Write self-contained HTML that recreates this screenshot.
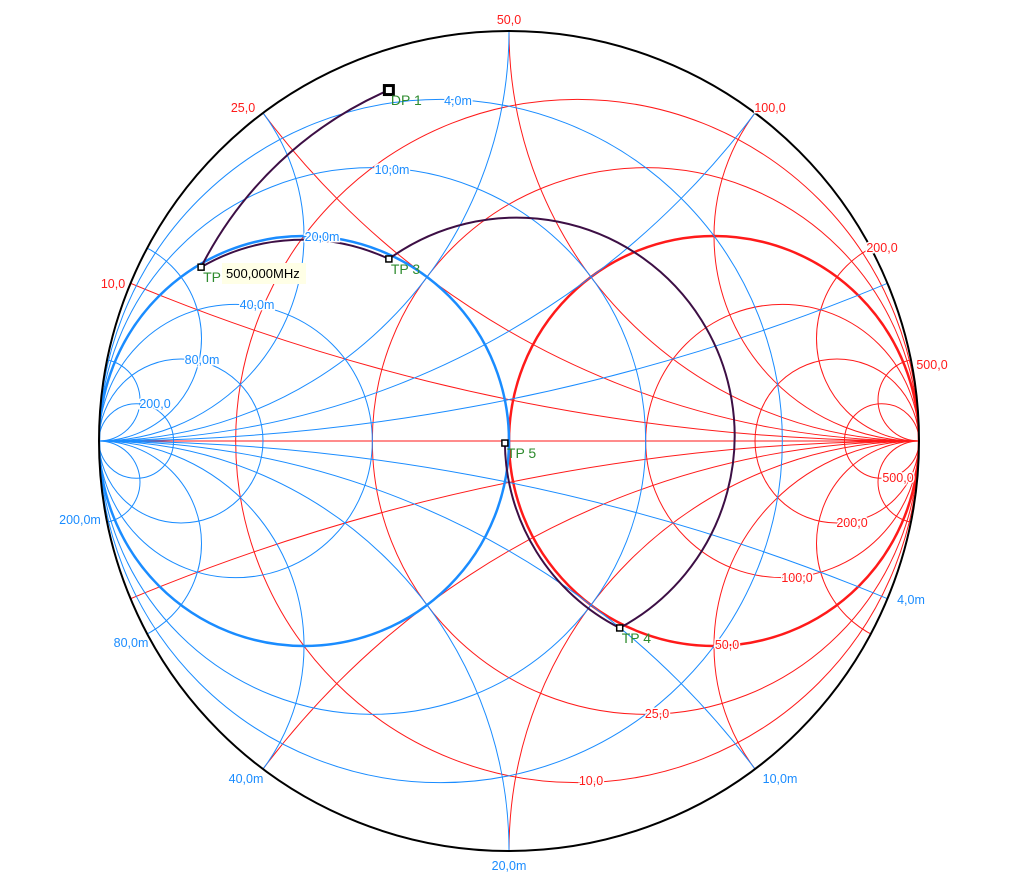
<!DOCTYPE html>
<html><head><meta charset="utf-8"><style>
html,body{margin:0;padding:0;background:#fff;width:1015px;height:882px;overflow:hidden;}
svg{display:block;font-family:"Liberation Sans",sans-serif;font-size:12.5px;}
</style></head><body>
<svg id="chart" width="1015" height="882" viewBox="0 0 1015 882">
<defs><clipPath id="uc"><circle cx="509" cy="441" r="410"/></clipPath></defs>
<g id="grid" clip-path="url(#uc)"></g>
<circle cx="509" cy="441" r="410" fill="none" stroke="#000" stroke-width="2"/>
<g id="traces"></g>
<g id="labels"></g>
</svg>
<script>
const CX=509, CY=441, R=410;
const resistances=[0.2,0.5,1,2,4,10];
const reactances=[0.2,0.5,1,2,4,10];
const conductances=[0.2,0.5,1,2,4,10];
const susceptances=[0.2,0.5,1,2,4,10];
const tpNames=["DP 1","TP 2","TP 3","TP 4","TP 5"];
const tpU=[-0.293,-0.751,-0.293,0.27,-0.01];
const tpV=[0.856,0.424,0.444,-0.456,-0.005];
const redRimLabels=["50,0","25,0","10,0","100,0","200,0","500,0"];
const redInLabels=["500,0","200,0","100,0","50,0","25,0","10,0"];
const blueInLabels=["4,0m","10,0m","20,0m","40,0m","80,0m","200,0"];
const blueRimLabels=["200,0m","80,0m","40,0m","20,0m","10,0m","4,0m"];
const NS="http://www.w3.org/2000/svg";
const px=u=>CX+u*R, py=v=>CY-v*R;
const grid=document.getElementById('grid'), tr=document.getElementById('traces'), lb=document.getElementById('labels');
function circ(parent,cu,cv,r,col,w){const c=document.createElementNS(NS,'circle');c.setAttribute('cx',px(cu));c.setAttribute('cy',py(cv));c.setAttribute('r',r*R);c.setAttribute('fill','none');c.setAttribute('stroke',col);c.setAttribute('stroke-width',w);parent.appendChild(c);return c;}
const RED="#ff1a1a", BLUE="#1a8cff";
const ax=document.createElementNS(NS,'line');ax.setAttribute('x1',CX-R);ax.setAttribute('x2',CX+R);ax.setAttribute('y1',CY);ax.setAttribute('y2',CY);ax.setAttribute('stroke',RED);


grid.appendChild(ax);
resistances.forEach(r=>{const c=circ(grid,r/(1+r),0,1/(1+r),RED,r===1?2.5:1);

});
reactances.forEach(x=>{[1,-1].forEach(s=>{const c=circ(grid,1,s/x,1/x,RED,1);

});});
conductances.forEach(g=>{const c=circ(grid,-g/(1+g),0,1/(1+g),BLUE,g===1?2.5:1);

});
susceptances.forEach(b=>{[1,-1].forEach(s=>{const c=circ(grid,-1,s/b,1/b,BLUE,1);

});});
function rad(cu,u,v){return Math.hypot(u-cu,v);}
const segs=[[0,1,0.0715,0,0],[1,2,-0.5,0,1],[2,3,0,1,1],[3,4,0.5,0,1]];
segs.forEach(s=>{const a=s[0],b=s[1];const r=Math.max(rad(s[2],tpU[a],tpV[a]),rad(s[2],tpU[b],tpV[b]))*R;
const p=document.createElementNS(NS,'path');
p.setAttribute('d',`M${px(tpU[a])},${py(tpV[a])} A${r},${r} 0 ${s[3]} ${s[4]} ${px(tpU[b])},${py(tpV[b])}`);
p.setAttribute('fill','none');p.setAttribute('stroke','#3d0f45');p.setAttribute('stroke-width',2);


tr.appendChild(p);});
tpNames.forEach((n,i)=>{const s=i===0?9:6;const r=document.createElementNS(NS,'rect');
r.setAttribute('x',px(tpU[i])-s/2);r.setAttribute('y',py(tpV[i])-s/2);r.setAttribute('width',s);r.setAttribute('height',s);
r.setAttribute('fill','#fff');r.setAttribute('stroke','#000');r.setAttribute('stroke-width',i===0?3:1.5);


tr.appendChild(r);
const t=document.createElementNS(NS,'text');t.setAttribute('x',px(tpU[i])+2);t.setAttribute('y',py(tpV[i])+15);t.setAttribute('fill','#2e8b2e');t.setAttribute('font-size','14');t.textContent=i===1?"TP":n;


tr.appendChild(t);});
const tb=document.createElementNS(NS,'rect');tb.setAttribute('x',222);tb.setAttribute('y',263);tb.setAttribute('width',84);tb.setAttribute('height',21);tb.setAttribute('fill','#ffffe6');


tr.appendChild(tb);
const tt=document.createElementNS(NS,'text');tt.setAttribute('x',226);tt.setAttribute('y',278);tt.setAttribute('font-size','13');tt.textContent="500,000MHz";


tr.appendChild(tt);
function lab(txt,x,y,col,anchor){const t=document.createElementNS(NS,'text');t.setAttribute('x',x);t.setAttribute('y',y);t.setAttribute('fill',col);t.setAttribute('text-anchor',anchor||'middle');t.setAttribute('stroke','#fff');t.setAttribute('stroke-width',3);t.setAttribute('paint-order','stroke');t.textContent=txt;


lb.appendChild(t);}
const rrPos=[[509,24],[243,112],[113,288],[770,112],[882,252],[932,369]];
redRimLabels.forEach((l,i)=>lab(l,rrPos[i][0],rrPos[i][1],RED));
const riPos=[[898,482],[852,527],[797,582],[727,649],[657,718],[591,785]];
redInLabels.forEach((l,i)=>lab(l,riPos[i][0],riPos[i][1],RED));
const biPos=[[458,105],[392,174],[322,241],[257,309],[202,364],[155,408]];
blueInLabels.forEach((l,i)=>lab(l,biPos[i][0],biPos[i][1],BLUE));
const brPos=[[80,524],[131,647],[246,783],[509,870],[780,783],[911,604]];
blueRimLabels.forEach((l,i)=>lab(l,brPos[i][0],brPos[i][1],BLUE));
</script>
</body></html>
